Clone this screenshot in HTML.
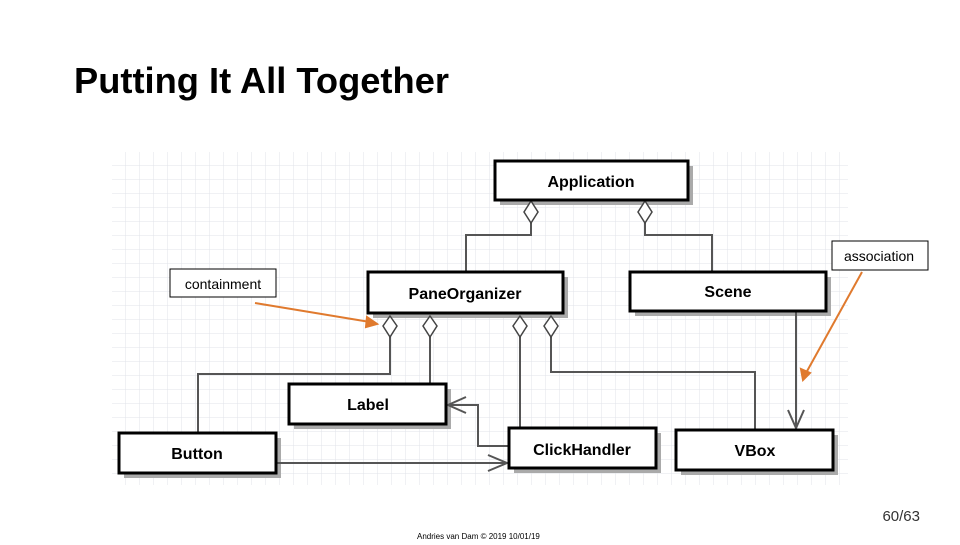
<!DOCTYPE html>
<html><head><style>
body{margin:0;width:960px;height:540px;background:#fff;overflow:hidden;font-family:"Liberation Sans",sans-serif}
</style></head><body>
<svg width="960" height="540" xmlns="http://www.w3.org/2000/svg">
<defs>
<pattern id="g" width="14" height="14" patternUnits="userSpaceOnUse" x="112" y="152">
<path d="M14 0V14H0" fill="none" stroke="#e0e3ea" stroke-width="1"/>
</pattern>
</defs>
<text x="74" y="93" font-size="36" font-weight="bold" fill="#000" textLength="375" lengthAdjust="spacingAndGlyphs">Putting It All Together</text>
<rect x="112" y="152" width="736" height="333" fill="url(#g)"/>
<g fill="#aaa">
<rect x="500" y="166" width="193" height="39"/>
<rect x="373" y="277" width="195" height="41"/>
<rect x="635" y="277" width="196" height="39"/>
<rect x="294" y="389" width="157" height="40"/>
<rect x="124" y="438" width="157" height="40"/>
<rect x="514" y="433" width="147" height="40"/>
<rect x="681" y="435" width="157" height="40"/>
</g>
<g fill="none" stroke="#555" stroke-width="2">
<path d="M531 223V235H466V272"/>
<path d="M645 223V235H712V272"/>
<path d="M390 337V374H198V433"/>
<path d="M430 337V384"/>
<path d="M520 337V428"/>
<path d="M551 337V372H755V430"/>
<path d="M796 311V428"/>
<path d="M788 410L796 428L804 410"/>
<path d="M509 446H478V405H448"/>
<path d="M466 397L448 405L466 413"/>
<path d="M276 463H507"/>
<path d="M488 455L507 463L488 471"/>
</g>
<g fill="#fff" stroke="#444" stroke-width="1.5">
<path d="M531 201L538 212L531 223L524 212Z"/>
<path d="M645 201L652 212L645 223L638 212Z"/>
<path d="M390 316L397 326L390 337L383 326Z"/>
<path d="M430 316L437 326L430 337L423 326Z"/>
<path d="M520 316L527 326L520 337L513 326Z"/>
<path d="M551 316L558 326L551 337L544 326Z"/>
</g>
<g fill="#fff" stroke="#000" stroke-width="3">
<rect x="495" y="161" width="193" height="39"/>
<rect x="368" y="272" width="195" height="41"/>
<rect x="630" y="272" width="196" height="39"/>
<rect x="289" y="384" width="157" height="40"/>
<rect x="119" y="433" width="157" height="40"/>
<rect x="509" y="428" width="147" height="40"/>
<rect x="676" y="430" width="157" height="40"/>
</g>
<g font-size="16" font-weight="bold" text-anchor="middle" fill="#000">
<text x="591" y="187">Application</text>
<text x="465" y="299">PaneOrganizer</text>
<text x="728" y="297">Scene</text>
<text x="368" y="410">Label</text>
<text x="197" y="459">Button</text>
<text x="582" y="455">ClickHandler</text>
<text x="755" y="456">VBox</text>
</g>
<g stroke="#e07a2e" stroke-width="2" fill="#e07a2e">
<line x1="255" y1="303" x2="370" y2="322"/>
<path d="M377 324L367 317L366 327Z"/>
<line x1="862" y1="272" x2="806" y2="373"/>
<path d="M803 380L801 369L810 373Z"/>
</g>
<rect x="170" y="269" width="106" height="28" fill="#fff" stroke="#000" stroke-width="1"/>
<text x="223" y="289" font-size="14" text-anchor="middle">containment</text>
<rect x="832" y="241" width="96" height="29" fill="#fff" stroke="#000" stroke-width="1"/>
<text x="879" y="261" font-size="14" text-anchor="middle">association</text>
<text x="920" y="521" font-size="15" text-anchor="end" fill="#333">60/63</text>
<text x="417" y="539" font-size="8" fill="#000">Andries van Dam © 2019 10/01/19</text>
</svg>
</body></html>
